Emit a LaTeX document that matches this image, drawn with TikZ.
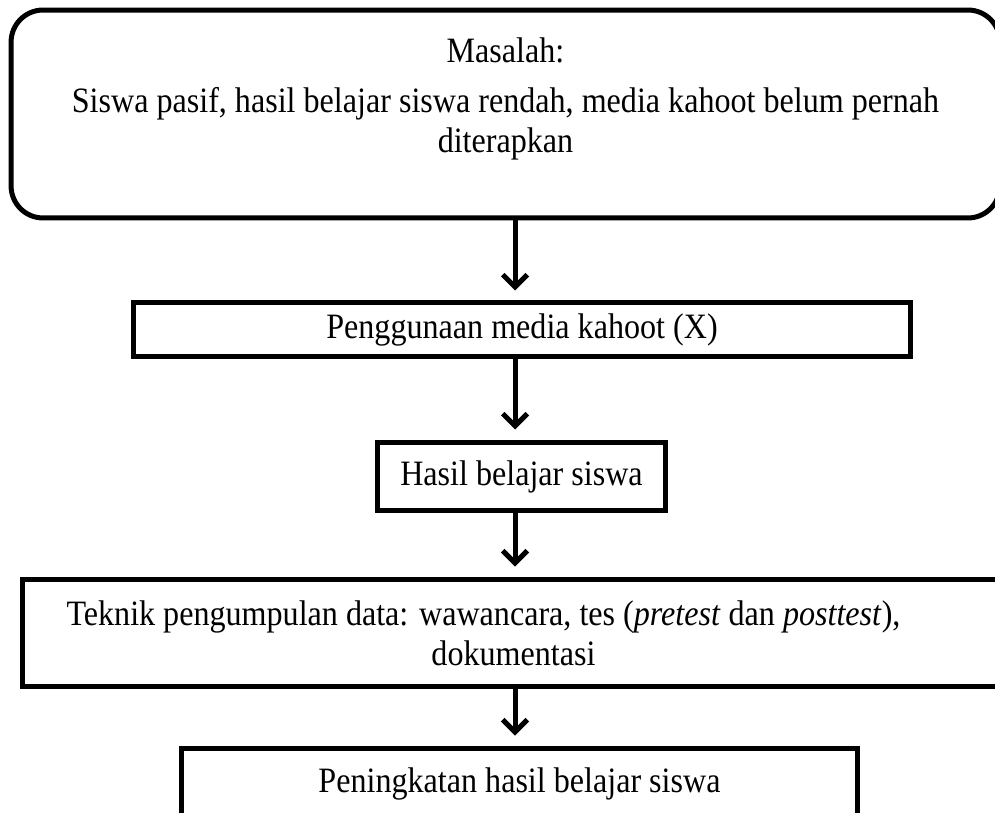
\documentclass[tikz,border=0pt]{standalone}
\usepackage{fontspec}
\setmainfont{Liberation Serif}[FakeStretch=0.9]
\usetikzlibrary{arrows.meta,positioning}

\begin{document}
\begin{tikzpicture}[x=0.02cm,y=-0.02cm,
  box/.style={draw, line width=0.1cm, inner sep=0pt, align=center,
    font=\fontsize{20.3}{22.7}\selectfont},
  flow/.style={line width=0.1cm, -{Straight Barb[length=7pt,width=14pt]},
    shorten >=0.2cm}]
  \useasboundingbox (0,0) rectangle (995,813);

  \node[box, rounded corners=0.64cm, minimum width=19.78cm, minimum height=4.16cm,
    text depth=0.76cm] (masalah) at (505.5,114)
    {Masalah:\\[0.2cm] Siswa pasif, hasil belajar siswa rendah, media kahoot belum pernah\\ diterapkan};
  \node[box, minimum width=15.56cm, minimum height=1.08cm] (media) at (522,330)
    {Penggunaan media kahoot (X)};
  \node[box, minimum width=5.78cm, minimum height=1.38cm] (hasil) at (521.5,476.5)
    {Hasil belajar siswa};
  \node[box, minimum width=19.66cm, minimum height=2.16cm] (teknik) at (513.5,633)
    {Teknik pengumpulan data: wawancara, tes (\textit{pretest} dan \textit{posttest}),\hspace*{1.2cm}\\ dokumentasi};
  \node[box, minimum width=13.54cm, minimum height=1.44cm] (peningkatan) at (519.5,784)
    {Peningkatan hasil belajar siswa};

  % arrows down the middle
  \coordinate (spine) at (515,0);
  \draw[flow] (masalah.south -| spine) -- (media.north -| spine);
  \draw[flow] (media.south -| spine) -- (hasil.north -| spine);
  \draw[flow] (hasil.south -| spine) -- (teknik.north -| spine);
  \draw[flow] (teknik.south -| spine) -- (peningkatan.north -| spine);
\end{tikzpicture}
\end{document}
